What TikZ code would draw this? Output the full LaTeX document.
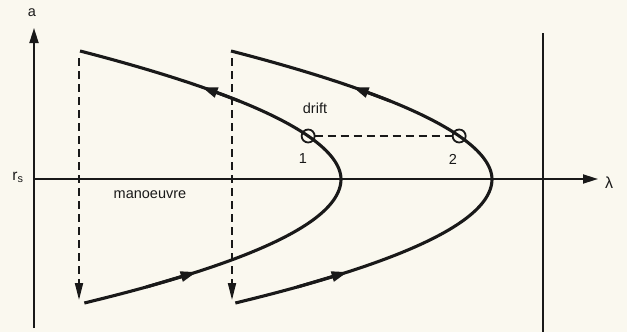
\documentclass[tikz,border=0pt]{standalone}
\usepackage{fontspec}
\setmainfont{Liberation Sans}
\usetikzlibrary{arrows.meta}
\definecolor{paper}{RGB}{250,248,239}
\definecolor{ink}{RGB}{25,25,25}
\begin{document}
\begin{tikzpicture}[x=1pt,y=-1pt,
  declare function={up(\n,\d)=\n-0.02588*pow(abs(\d),1.9); lo(\n,\d)=\n-0.0167*\d*\d;},
  curve/.style={ink,line width=3.1pt},
  axis/.style={ink,line width=1.8pt},
  dashline/.style={ink,line width=1.8pt,dash pattern=on 8pt off 5pt},
  ctip/.style={-{Triangle[length=16pt,width=10pt]}},
  dtip/.style={-{Triangle[length=17pt,width=8pt]}},
  atip/.style={-{Triangle[length=15pt,width=9pt]}},
  lbl/.style={ink,font=\fontsize{14.5}{14.5}\selectfont,inner sep=0pt},
  marker/.style={ink,line width=1.8pt}]
\fill[paper] (0,0) rectangle (627,332);
\useasboundingbox (0,0) rectangle (627,332);
% axes
\draw[axis,atip] (34,328) -- (34,28);
\draw[axis,atip] (34,179) -- (598,179);
\draw[axis] (543,33) -- (543,332);
% labels
\node[lbl] (a) at (32,13) {a};
\node[lbl,font=\fontsize{16}{16}\selectfont] (lam) at (609,183) {λ};
\node[lbl,font=\fontsize{15.5}{15.5}\selectfont] (rs) at (18,177) {r\textsubscript{s}};
\node[lbl] (man) at (150,195) {manoeuvre};
\node[lbl] (dr) at (315,108) {drift};
\node[lbl] (n1) at (303,159) {1};
\node[lbl] (n2) at (453,159) {2};
% curves
\foreach \n in {341,492}{
  \draw[curve] plot[domain=-128:0,samples=60,smooth] ({up(\n,\x)},{179+\x})
     -- plot[domain=0:124,samples=60,smooth] ({lo(\n,\x)},{179+\x});
  \draw[curve,ctip] ({up(\n,-78)},{179-78}) -- ({up(\n,-92)},{179-92});
  \draw[curve,ctip] ({lo(\n,108)},{179+108}) -- ({lo(\n,93)},{179+93});
}
% dashed manoeuvre lines
\draw[dashline,dtip] (79,58) -- (79,300);
\draw[dashline,dtip] (232,58) -- (232,300);
% drift points
\coordinate (p1) at ({up(341,-43)},136);
\coordinate (p2) at ({up(492,-43)},136);
\draw[marker] (p1) circle[radius=6.5pt];
\draw[marker] (p2) circle[radius=6.5pt];
\draw[dashline] ([xshift=6.5pt]p1) -- ([xshift=-6.5pt]p2);
\end{tikzpicture}
\end{document}
